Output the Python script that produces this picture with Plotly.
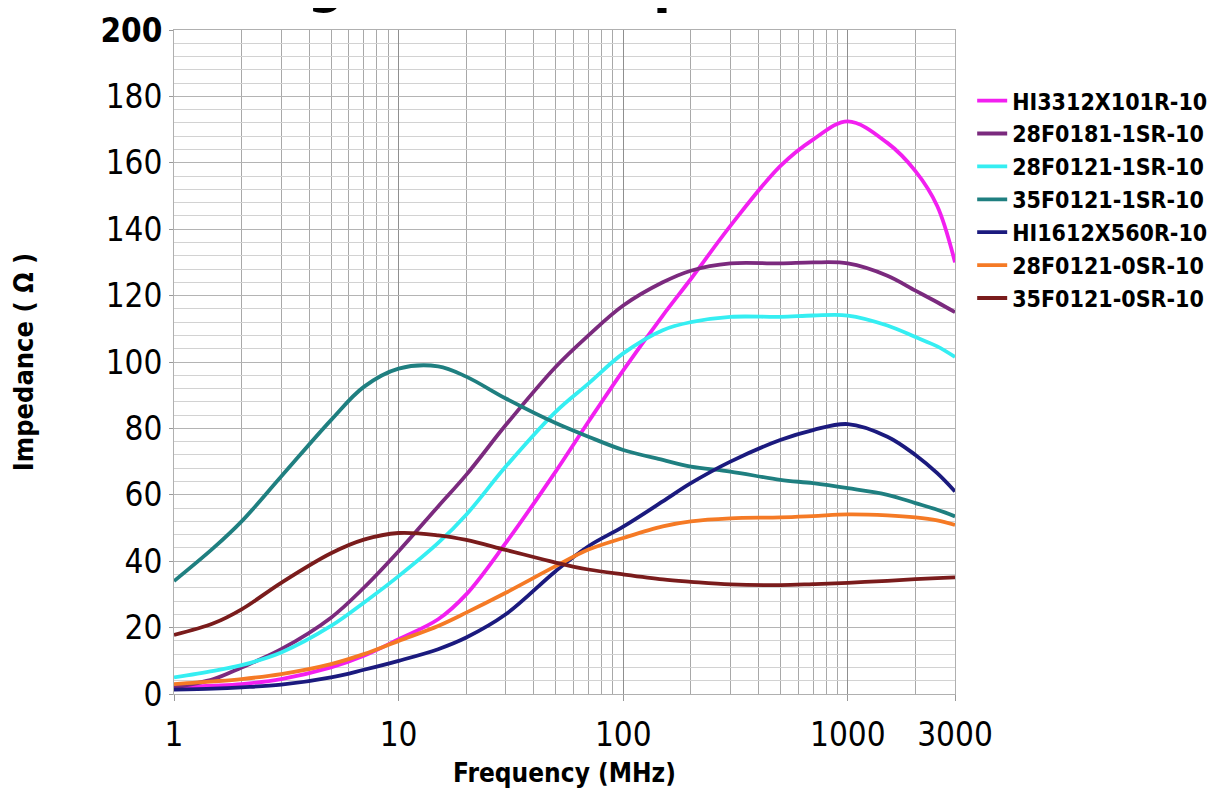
import plotly.graph_objects as go
import math

# ---------------- data ----------------
freq_mhz = [1, 1.5, 2, 3, 5, 7, 10, 15, 20, 30, 50, 70, 100, 150, 200,
            300, 500, 700, 1000, 1500, 2000, 2500, 3000]

hi3312x101r = [2, 2.5, 3, 4.5, 8, 11.5, 16.5, 22.5, 30, 45.5, 67, 82, 97.5, 114, 125,
               141, 159, 167, 172.5, 166, 157.5, 147, 130]
f28f0181_1sr = [2, 4.5, 8, 13.5, 23, 32, 43, 56.5, 66, 81, 98.5, 108, 117, 124, 127.5,
                129.7, 129.7, 130, 129.7, 126, 121.5, 118, 115]
f28f0121_1sr = [5, 7, 8.7, 12.5, 20.5, 27.5, 35.5, 45.5, 54, 68.5, 85, 93.5, 102.6, 109.6, 112,
                113.6, 113.6, 114, 114, 111, 107.5, 104.7, 101.5]
f35f0121_1sr = [34, 44, 52, 65.5, 82.5, 92.5, 98, 98.7, 95.6, 89, 81.6, 77.5, 73.5, 70.5, 68.5,
                67, 64.5, 63.5, 62, 60, 57.5, 55.5, 53.5]
hi1612x560r = [1.3, 1.6, 2, 2.8, 5, 7.3, 10, 13.5, 17, 24, 37, 44.5, 50.4, 58, 63.5,
               70, 76.5, 79.5, 81.3, 77.5, 72, 66.5, 61]
f28f0121_0sr = [3, 3.8, 4.5, 6, 9, 12, 16, 20.5, 24.5, 30.5, 38.5, 43.5, 47, 50.5, 52,
                52.9, 53.2, 53.6, 54.1, 53.8, 53.2, 52.3, 50.9]
f35f0121_0sr = [17.8, 21.3, 25.5, 33.5, 42.4, 46.5, 48.5, 47.8, 46.4, 43.4, 39.6, 37.5, 36, 34.5, 33.8,
                33, 32.8, 33.1, 33.5, 34.1, 34.6, 34.9, 35.1]

series_names = ["HI3312X101R-10", "28F0181-1SR-10", "28F0121-1SR-10", "35F0121-1SR-10",
                "HI1612X560R-10", "28F0121-0SR-10", "35F0121-0SR-10"]
series_values = [hi3312x101r, f28f0181_1sr, f28f0121_1sr, f35f0121_1sr,
                 hi1612x560r, f28f0121_0sr, f35f0121_0sr]
series_colors = ["#f21ff0", "#7b2a7e", "#35eef2", "#1f7f80", "#1b1a7e", "#f57a25", "#7a1c1c"]

x_tick_vals = [1, 10, 100, 1000, 3000]
x_tick_text = ["1", "10", "100", "1000", "3000"]
x_minor_vals = [2, 3, 4, 5, 6, 7, 8, 9, 20, 30, 40, 50, 60, 70, 80, 90,
                200, 300, 400, 500, 600, 700, 800, 900, 2000]
y_tick_vals = [0, 20, 40, 60, 80, 100, 120, 140, 160, 180, 200]
y_tick_text = ["0", "20", "40", "60", "80", "100", "120", "140", "160", "180", "<b>200</b>"]

title_text = "Ring Ferrite Impedance"

FONT = "DejaVu Sans Condensed, Liberation Sans Narrow, sans-serif"

fig = go.Figure()
for name, vals, col in zip(series_names, series_values, series_colors):
    fig.add_trace(go.Scatter(x=freq_mhz, y=vals, name=name, mode="lines",
                             line=dict(color=col, width=3.8, shape="spline", smoothing=1)))

fig.update_layout(
    width=1217, height=790,
    margin=dict(l=166, r=270, t=22, b=104, autoexpand=False),
    paper_bgcolor="white", plot_bgcolor="white",
    font=dict(family=FONT, color="black"),
    showlegend=True,
    legend=dict(x=1.022, y=0.926, xanchor="left", yanchor="top",
                font=dict(family=FONT, size=23, color="black", weight="bold"),
                itemwidth=30, tracegroupgap=0, bgcolor="rgba(0,0,0,0)"),
    xaxis=dict(type="log", range=[0, math.log10(3000)], automargin=False,
               tickmode="array", tickvals=x_tick_vals, ticktext=x_tick_text,
               tickfont=dict(size=33, family=FONT), ticks="outside", ticklen=6,
               tickcolor="#999999", ticklabelstandoff=5,
               showgrid=True, gridcolor="#8f8f8f", gridwidth=1,
               minor=dict(tickmode="array", tickvals=x_minor_vals, showgrid=True,
                          gridcolor="#a8a8a8", gridwidth=1, ticks=""),
               showline=True, linecolor="#b0b0b0", linewidth=1, mirror=True,
               zeroline=False,
               title=dict(text="<b>Frequency (MHz)</b>", font=dict(size=26, family=FONT),
                          standoff=11)),
    yaxis=dict(range=[0, 200], automargin=False,
               tickmode="array", tickvals=y_tick_vals, ticktext=y_tick_text,
               tickfont=dict(size=33, family=FONT), ticks="outside", ticklen=4,
               tickcolor="#999999",
               showgrid=True, gridcolor="#b4b4b4", gridwidth=1,
               minor=dict(dtick=4, showgrid=True, gridcolor="#d2d2d2", gridwidth=1, ticks=""),
               showline=True, linecolor="#b0b0b0", linewidth=1, mirror=True,
               zeroline=False,
               title=dict(text="<b>Impedance ( Ω )</b>", font=dict(size=27, family=FONT),
                          standoff=58)),
)

fig.add_annotation(text="<b>" + title_text + "</b>", xref="paper", yref="paper",
                   x=0.046, y=1.0196, xanchor="left", yanchor="bottom", showarrow=False,
                   font=dict(size=58, family=FONT, color="black"))

fig.write_html("out.html")
